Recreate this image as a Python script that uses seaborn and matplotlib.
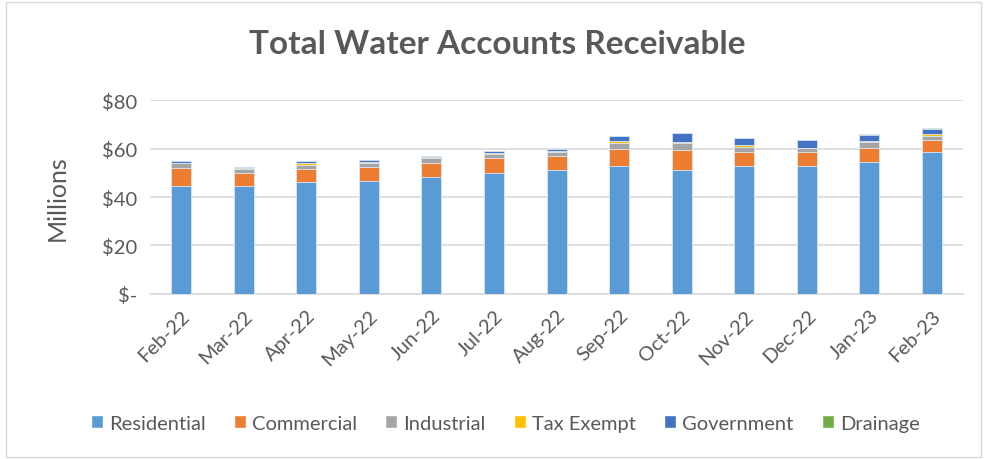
import numpy as np
import pandas as pd
import seaborn as sns
import matplotlib.pyplot as plt
from matplotlib.patches import Patch, Rectangle

months = ['Feb-22', 'Mar-22', 'Apr-22', 'May-22', 'Jun-22', 'Jul-22', 'Aug-22',
          'Sep-22', 'Oct-22', 'Nov-22', 'Dec-22', 'Jan-23', 'Feb-23']
# values in $ millions
residential = [44.6, 44.6, 46.1, 46.7, 48.3, 50.0, 51.2, 52.9, 51.3, 52.9, 52.9, 54.6, 58.7]
commercial = [7.5, 5.4, 5.4, 5.8, 5.8, 6.2, 5.8, 6.9, 8.0, 5.8, 5.8, 5.7, 4.7]
industrial = [1.9, 1.4, 1.9, 1.6, 2.1, 1.4, 1.6, 2.7, 3.2, 2.1, 1.6, 2.6, 2.0]
tax_exempt = [0.1, 0.4, 0.5, 0.5, 0.2, 0.6, 0.5, 0.5, 0.1, 0.5, 0.1, 0.1, 0.8]
government = [0.6, 0.5, 0.8, 0.7, 0.5, 0.8, 0.6, 2.1, 3.7, 3.2, 3.1, 2.8, 2.1]
drainage = [0.05, 0.05, 0.05, 0.05, 0.05, 0.05, 0.05, 0.05, 0.05, 0.05, 0.05, 0.05, 0.05]

series = ['Residential', 'Commercial', 'Industrial', 'Tax Exempt', 'Government', 'Drainage']
colors = ['#5B9BD5', '#ED7D31', '#A5A5A5', '#FFC000', '#4472C4', '#70AD47']

df = pd.DataFrame({'month': months, 'Residential': residential, 'Commercial': commercial,
                   'Industrial': industrial, 'Tax Exempt': tax_exempt,
                   'Government': government, 'Drainage': drainage})
cum = df[series].cumsum(axis=1)

sns.set_style('white')
plt.rcParams['font.family'] = ['Lato', 'DejaVu Sans']

fig = plt.figure(figsize=(9.85, 4.6), dpi=100)
ax = fig.add_axes([0.152, 0.359, 0.826, 0.421])

# draw the stack from the top series down so each layer covers the one above
for name, col in reversed(list(zip(series, colors))):
    sns.barplot(x=df['month'], y=cum[name], color=col, width=0.32, ax=ax,
                saturation=1, edgecolor='#DCE9F6', linewidth=0.6, zorder=3)

ax.set_ylim(0, 80)
ax.set_xlim(-0.5, 12.5)
ax.set_yticks([0, 20, 40, 60, 80])
ax.set_yticklabels(['$-', '$20', '$40', '$60', '$80'])
ax.yaxis.grid(True, color='#D9D9D9', linewidth=1.2, zorder=0)
ax.set_axisbelow(True)
for s in ['top', 'right', 'left']:
    ax.spines[s].set_visible(False)
ax.spines['bottom'].set_color('#D9D9D9')
ax.spines['bottom'].set_linewidth(1.2)
ax.tick_params(axis='both', colors='#595959', labelsize=14.5, length=0, pad=9)
plt.setp(ax.get_xticklabels(), rotation=45, ha='right', rotation_mode='anchor')
ax.set_xlabel('')
ax.set_ylabel('Millions', fontsize=18, color='#595959', labelpad=24)

fig.suptitle('Total Water Accounts Receivable', x=0.505, y=0.935, fontsize=24,
             fontweight='bold', color='#595959')

handles = [Patch(facecolor=c, label=n) for n, c in zip(series, colors)]
fig.legend(handles=handles, loc='center', bbox_to_anchor=(0.513, 0.078), ncol=6,
           frameon=False, fontsize=14.5, handlelength=0.6, handleheight=0.6,
           handletextpad=0.3, columnspacing=1.4, labelcolor='#595959')

fig.patches.append(Rectangle((0.006, 0.004), 0.99, 0.99, transform=fig.transFigure,
                             fill=False, edgecolor='#D9D9D9', linewidth=1))

fig.savefig('out.png', dpi=100)
